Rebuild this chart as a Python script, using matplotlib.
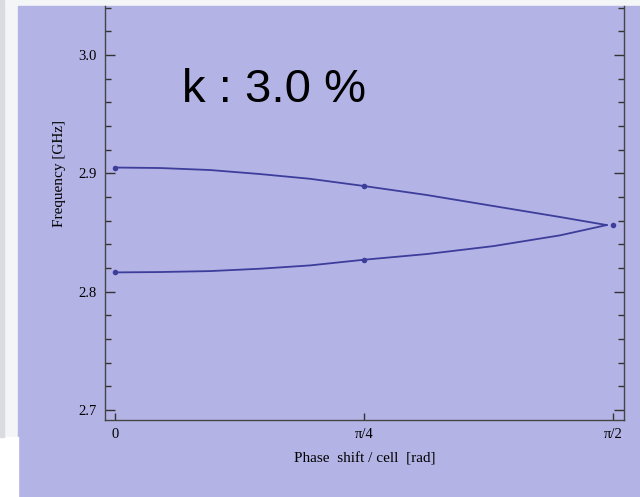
import numpy as np
import matplotlib
matplotlib.use("Agg")
import matplotlib.pyplot as plt
from matplotlib.patches import Rectangle
from matplotlib.ticker import MultipleLocator

# curve samples (phase in rad, frequency in GHz)
upper_phase = [0.0, 0.142, 0.2996, 0.4573, 0.615, 0.7854, 0.9832, 1.1932, 1.4036, 1.551]
upper_freq = [2.9049, 2.9045, 2.9028, 2.8994, 2.8954, 2.8893, 2.8817, 2.8724, 2.8631, 2.8563]
lower_phase = [0.0, 0.142, 0.2996, 0.4573, 0.615, 0.7854, 0.9832, 1.1932, 1.4036, 1.551]
lower_freq = [2.8163, 2.8166, 2.8174, 2.8194, 2.8222, 2.8270, 2.8318, 2.8385, 2.8476, 2.8563]

# computed points (dots)
dot_phase = [0.0, 0.7854, 0.0, 0.7854, 1.5708]
dot_freq = [2.9049, 2.8893, 2.8163, 2.8270, 2.8560]

xtick_pos = [0.0, np.pi / 4, np.pi / 2]
xtick_lab = ["0", "π/4", "π/2"]
ytick_pos = [2.7, 2.8, 2.9, 3.0]
ytick_lab = ["2.7", "2.8", "2.9", "3.0"]

purple = "#b3b3e6"
line_col = "#3d3d9b"
serif = ["Liberation Serif", "DejaVu Serif"]

fig = plt.figure(figsize=(6.4, 4.97), dpi=100, facecolor="#f4f5f7")
# slide background, kept behind the axes
fig.patches.append(Rectangle((18 / 640, 0), 1, (497 - 6) / 497,
                             transform=fig.transFigure, color=purple, zorder=-5))
fig.patches.append(Rectangle((0, 0), 18 / 640, 0.12,
                             transform=fig.transFigure, color="white", zorder=-5))
fig.patches.append(Rectangle((0, 0.12), 4 / 640, 0.88,
                             transform=fig.transFigure, color="#d9dbe0", zorder=-5))

ax = fig.add_axes([105 / 640, (497 - 419.5) / 497, (623.7 - 105) / 640, (419.5 - 6) / 497])
ax.set_facecolor("none")
ax.set_zorder(2)

ax.plot(upper_phase, upper_freq, color=line_col, lw=1.3)
ax.plot(lower_phase, lower_freq, color=line_col, lw=1.3)
ax.plot(dot_phase, dot_freq, "o", color=line_col, ms=4, mec="none")

ax.set_xlim(-0.0315, 1.6046)
ax.set_ylim(2.692, 3.0414)

ax.set_xticks(xtick_pos)
ax.set_xticklabels(xtick_lab, fontfamily=serif, fontsize=10.5)
ax.set_yticks(ytick_pos)
ax.set_yticklabels(ytick_lab, fontfamily=serif, fontsize=10.5)
ax.yaxis.set_minor_locator(MultipleLocator(0.02))

ax.spines["top"].set_visible(False)
for s in ["left", "right", "bottom"]:
    ax.spines[s].set_color("#444444")
    ax.spines[s].set_linewidth(1.0)

ax.tick_params(axis="y", which="major", direction="in", length=7, width=1,
               color="#333333", right=True, labelright=False, pad=6)
ax.tick_params(axis="y", which="minor", direction="in", length=4, width=1,
               color="#333333", right=True)
ax.tick_params(axis="x", which="major", direction="in", length=5, width=1,
               color="#333333", pad=6)

ax.set_ylabel("Frequency [GHz]", fontfamily=serif, fontsize=11)
ax.yaxis.set_label_coords(-0.075, 0.596)
ax.set_xlabel("Phase  shift / cell  [rad]", fontfamily=serif, fontsize=11, labelpad=8)

ax.text(0.211, 2.9603, "k : 3.0 %", fontfamily="Liberation Sans", fontsize=34,
        va="baseline", ha="left", color="black")

fig.savefig("out.png", dpi=100, facecolor=fig.get_facecolor())
